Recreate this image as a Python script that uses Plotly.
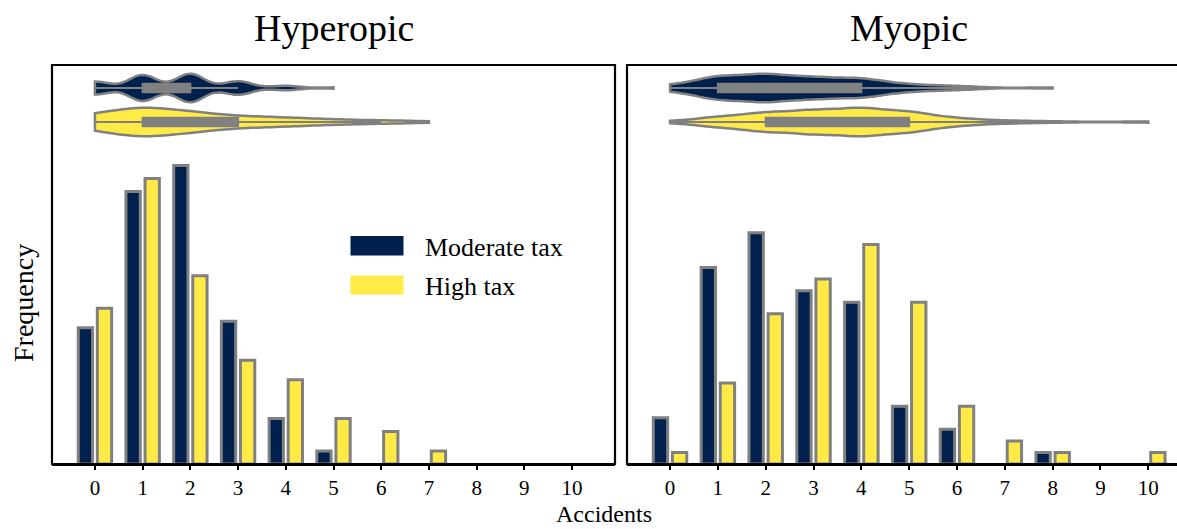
import numpy as np
import plotly.graph_objects as go

# Number of accidents per person and how often each count occurs
accidents = list(range(11))
hyperopic_moderate = [21, 42, 46, 22, 7, 2, 0, 0, 0, 0, 0]
hyperopic_high = [24, 44, 29, 16, 13, 7, 5, 2, 0, 0, 0]
myopic_moderate = [4, 17, 20, 15, 14, 5, 3, 0, 1, 0, 0]
myopic_high = [1, 7, 13, 16, 19, 14, 5, 2, 1, 0, 1]

panel_titles = ["Hyperopic", "Myopic"]
group_names = ["Moderate tax", "High tax"]

NAVY = "#00204D"
YELLOW = "#FFEA46"
GRAY = "#808080"
FONT = "Liberation Serif"

W, H = 1177, 529
ML, MR, MT, MB = 52, 0, 65, 65
PW, PH = W - ML - MR, H - MT - MB


def px_x(px):
    return (px - ML) / PW


def px_y(py):
    return (H - MB - py) / PH


left_dom = [0, px_x(615)]
right_dom = [px_x(627), 1]
violin_dom = [px_y(145), 1]
bar_dom = [0, px_y(145)]

fig = go.Figure()

panels = [
    (hyperopic_moderate, hyperopic_high, "x", "y", "x3", "y3", None),
    (myopic_moderate, myopic_high, "x2", "y2", "x4", "y4", 0.5),
]

for moderate, high, vx, vy, bx, by, bw in panels:
    # Violins of the raw observations rebuilt from the counts
    for counts, colour, pos in ((moderate, NAVY, 1), (high, YELLOW, 0)):
        samples = np.repeat(accidents, counts)
        fig.add_trace(go.Violin(
            x=samples, y0=pos, orientation="h", side="both",
            spanmode="hard", points=False, width=0.84, scalemode="width",
            bandwidth=bw,
            fillcolor=colour, opacity=1, line=dict(color=GRAY, width=2.5),
            box=dict(visible=True, width=0.3, fillcolor=GRAY,
                     line=dict(color=GRAY, width=2)),
            meanline=dict(visible=False),
            xaxis=vx, yaxis=vy, showlegend=False, hoverinfo="skip",
        ))
    # Frequency bars, moderate and high tax side by side
    for counts, colour, name in ((moderate, NAVY, group_names[0]),
                                 (high, YELLOW, group_names[1])):
        fig.add_trace(go.Bar(
            x=accidents, y=[c if c else None for c in counts], name=name,
            marker=dict(color=colour, line=dict(color=GRAY, width=3)),
            xaxis=bx, yaxis=by, showlegend=False,
        ))

hidden = dict(showgrid=False, zeroline=False, showticklabels=False,
              ticks="", showline=False)
tick_axis = dict(
    showgrid=False, zeroline=False, showline=True, linecolor="black",
    linewidth=2, ticks="outside", ticklen=4, tickwidth=2, tickcolor="black",
    tickvals=accidents, ticktext=[str(a) for a in accidents],
    tickfont=dict(family=FONT, size=21, color="black"),
)

fig.update_layout(
    width=W, height=H,
    margin=dict(l=ML, r=MR, t=MT, b=MB, pad=0),
    plot_bgcolor="white", paper_bgcolor="white",
    font=dict(family=FONT, color="black"),
    barmode="group", bargap=0.2, bargroupgap=0.25,
    violinmode="overlay", showlegend=False,
    xaxis=dict(domain=left_dom, range=[-0.9, 10.9], anchor="y", **hidden),
    yaxis=dict(domain=violin_dom, range=[-0.676, 1.676], anchor="x", **hidden),
    xaxis2=dict(domain=right_dom, range=[-0.9, 10.6], anchor="y2", **hidden),
    yaxis2=dict(domain=violin_dom, range=[-0.676, 1.676], anchor="x2", **hidden),
    xaxis3=dict(domain=left_dom, range=[-0.9, 10.9], anchor="y3", **tick_axis),
    yaxis3=dict(domain=bar_dom, range=[0, 49.15], anchor="x3", **hidden),
    xaxis4=dict(domain=right_dom, range=[-0.9, 10.6], anchor="y4", **tick_axis),
    yaxis4=dict(domain=bar_dom, range=[0, 27.6], anchor="x4", **hidden),
)

# Panel frames (the right panel continues past the page edge)
frame = dict(type="rect", xref="paper", yref="paper", y0=0, y1=1,
             line=dict(color="black", width=2.2), fillcolor="rgba(0,0,0,0)")
fig.add_shape(x0=left_dom[0], x1=left_dom[1], **frame)
fig.add_shape(x0=right_dom[0], x1=px_x(1190), **frame)

# Legend drawn as colour swatches with labels
for colour, top, bottom in ((NAVY, 236, 255.5), (YELLOW, 275.5, 294.5)):
    fig.add_shape(type="rect", xref="paper", yref="paper",
                  x0=px_x(350.5), x1=px_x(403.5), y0=px_y(bottom), y1=px_y(top),
                  line=dict(width=0), fillcolor=colour)
for name, cy in zip(group_names, (247, 286)):
    fig.add_annotation(text=name, xref="paper", yref="paper",
                       x=px_x(423), y=px_y(cy), xanchor="left", yanchor="middle",
                       showarrow=False, font=dict(family=FONT, size=26))

# Panel titles and axis labels
for title, cx in zip(panel_titles, (333.5, 908.5)):
    fig.add_annotation(text=title, xref="paper", yref="paper",
                       x=px_x(cx), y=px_y(28), xanchor="center", yanchor="middle",
                       showarrow=False, font=dict(family=FONT, size=38))
fig.add_annotation(text="Accidents", xref="paper", yref="paper",
                   x=px_x(604), y=px_y(514), xanchor="center", yanchor="middle",
                   borderpad=0, showarrow=False, font=dict(family=FONT, size=24))
fig.add_annotation(text="Frequency", xref="paper", yref="paper",
                   x=px_x(23), y=px_y(303), xanchor="center", yanchor="middle",
                   textangle=-90, showarrow=False, font=dict(family=FONT, size=28))

fig.write_html("out.html")
